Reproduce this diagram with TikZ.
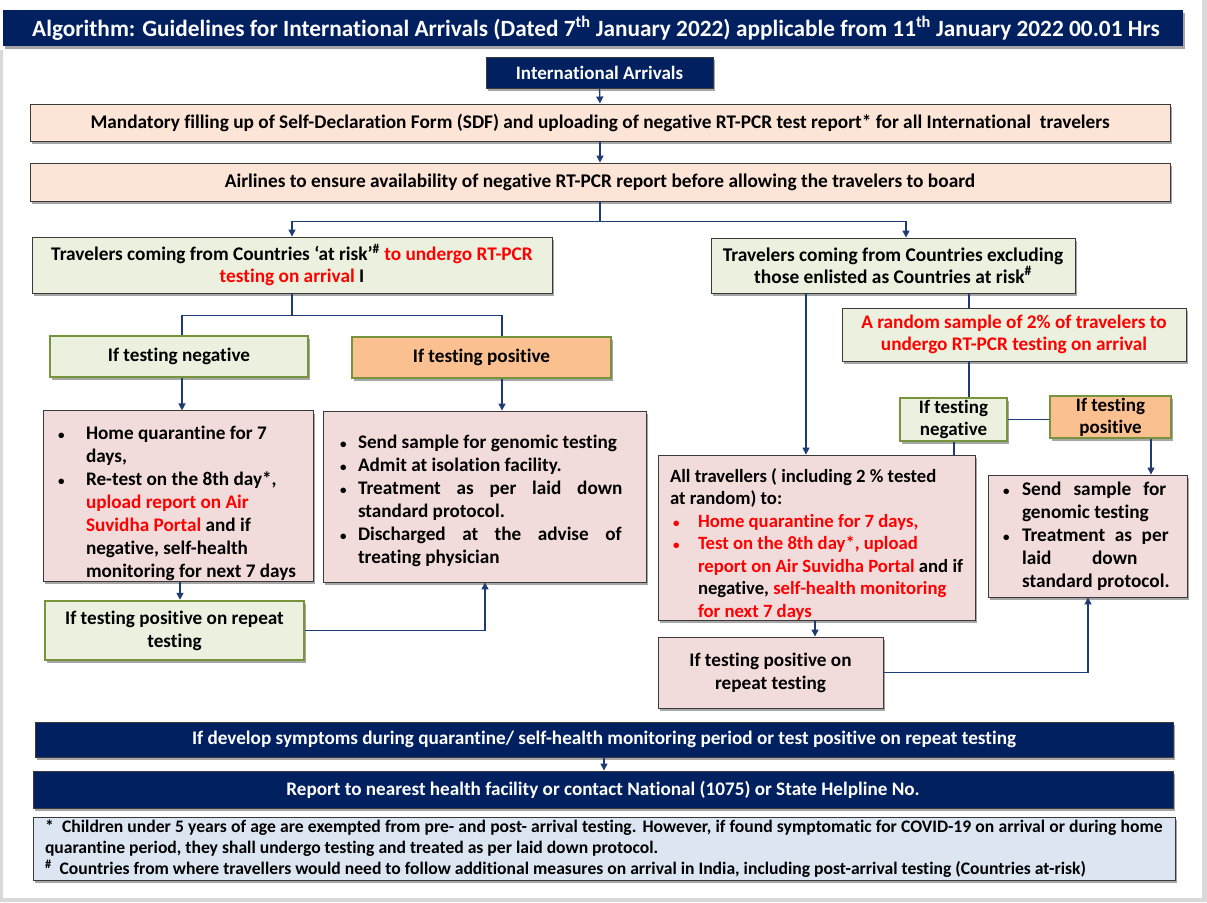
\documentclass[tikz,border=0pt]{standalone}
\usepackage{fontspec}
\setmainfont{Carlito}[Ligatures=NoCommon]
\usetikzlibrary{arrows.meta,shadows}
\definecolor{navy}{HTML}{002060}
\definecolor{linec}{HTML}{1F3B73}
\definecolor{peachc}{HTML}{FCE4D6}
\definecolor{greenf}{HTML}{EBF1DE}
\definecolor{greenb}{HTML}{77933C}
\definecolor{orangef}{HTML}{FAC090}
\definecolor{pinkf}{HTML}{F2DCDB}
\definecolor{bluef}{HTML}{DCE6F2}
\definecolor{borderg}{HTML}{3A3A3A}
\definecolor{frameg}{HTML}{D9D9D9}
\definecolor{redt}{HTML}{FF0000}
\newcommand{\rd}[1]{{\color{redt}#1}}
\newcommand{\dotb}{{\fontsize{13}{13}\selectfont •}}
\newcommand{\bu}{\makebox[28pt][l]{\dotb}}
\newcommand{\bs}{\makebox[18pt][l]{\dotb}}
\newcommand{\ind}[1]{\hspace*{#1}}
\newcommand{\just}[2]{\makebox[#1][l]{\spaceskip=0.22em plus 1fil\relax #2}}
\newcommand{\topstrut}[1]{\rule{0pt}{#1}}
\begin{document}
\begin{tikzpicture}[x=1pt,y=-1pt,
  shad/.style={drop shadow={shadow xshift=2pt,shadow yshift=-3pt,fill=black,opacity=0.35}},
  base/.style={draw=borderg,line width=0.9pt,inner sep=0pt,align=center,shad,
    font=\bfseries\fontsize{19.2}{23}\selectfont},
  peachbox/.style={base,fill=peachc},
  greenbox/.style={base,fill=greenf},
  gbox/.style={base,fill=greenf,draw=greenb,line width=2.5pt},
  obox/.style={base,fill=orangef,draw=greenb,line width=2.5pt},
  pinkbox/.style={base,fill=pinkf,align=flush left},
  navybox/.style={base,fill=navy,text=white},
  footbox/.style={base,fill=bluef,align=flush left,font=\bfseries\fontsize{17.6}{21}\selectfont},
  ln/.style={draw=linec,line width=1.3pt},
  arr/.style={ln,-{Triangle[width=7pt,length=7pt]}}
]
\useasboundingbox (0,0) rectangle (1207,902);
\fill[frameg] (0,0) rectangle (1207,902);
\fill[white] (3,0) rectangle (1202,898);
\fill[white] (0,0) rectangle (3,50);

% coordinates for connector x-positions
\coordinate (x182) at (182,0);
\coordinate (x502) at (502,0);
\coordinate (x806) at (806,0);
\coordinate (x906) at (906,0);
\coordinate (x969) at (969,0);
\coordinate (x954) at (954,0);
\coordinate (x1151) at (1151,0);
\coordinate (x815) at (815,0);
\coordinate (x1088) at (1088,0);
\coordinate (x180) at (180,0);
\coordinate (x485) at (485,0);
\coordinate (x604) at (604,0);

% title
\node[navybox,draw=none,minimum width=1180pt,minimum height=36pt,font=\bfseries\fontsize{23.3}{27}\selectfont] (title) at (593,28)
 {\hspace*{6pt}Algorithm: Guidelines for International Arrivals (Dated 7\textsuperscript{th} January 2022) applicable from 11\textsuperscript{th} January 2022 00.01 Hrs};

\node[navybox,minimum width=227pt,minimum height=31pt,font=\bfseries\fontsize{19}{22}\selectfont] (ia) at (599.5,72.5) {International Arrivals};

\node[peachbox,minimum width=1140pt,minimum height=37pt,font=\bfseries\fontsize{19.3}{23}\selectfont] (sdf) at (600,122.5)
 {Mandatory filling up of Self-Declaration Form (SDF) and uploading of negative RT-PCR test report* for all International\ \ travelers};
\node[peachbox,minimum width=1140pt,minimum height=38pt,font=\bfseries\fontsize{19.35}{23}\selectfont] (air) at (600,182)
 {Airlines to ensure availability of negative RT-PCR report before allowing the travelers to board};

\node[greenbox,minimum width=520pt,minimum height=56pt,font=\bfseries\fontsize{19.3}{22}\selectfont] (risk) at (292,265)
 {Travelers coming from Countries ‘at risk’\textsuperscript{\#} \rd{to undergo RT-PCR}\\\rd{testing on arrival} I};
\node[greenbox,minimum width=364pt,minimum height=55pt,font=\bfseries\fontsize{19.4}{22}\selectfont] (nonrisk) at (893,265.5)
 {Travelers coming from Countries excluding\\those enlisted as Countries at risk\textsuperscript{\#}};

\node[gbox,minimum width=258pt,minimum height=41pt] (neg1) at (179,356.5) {If testing negative};
\node[obox,minimum width=259pt,minimum height=41pt] (pos1) at (481.5,357.5) {If testing positive};

\node[pinkbox,minimum width=270pt,minimum height=170pt,text width=240pt,font=\bfseries\fontsize{19.2}{23}\selectfont] (hq1) at (178,496)
 {\topstrut{29pt}\bu Home quarantine for 7\\
  \ind{28pt}days,\\
  \bu Re-test on the 8th day*,\\
  \ind{28pt}\rd{upload report on Air}\\
  \ind{28pt}\rd{Suvidha Portal} and if\\
  \ind{28pt}negative, self-health\\
  \ind{28pt}\mbox{monitoring for next 7 days}};

\node[pinkbox,minimum width=323pt,minimum height=171pt,text width=289pt,font=\bfseries\fontsize{19.2}{23}\selectfont] (iso1) at (484.5,496.5)
 {\topstrut{22pt}\bs Send sample for genomic testing\\
  \bs Admit at isolation facility.\\
  \bs\just{276pt}{Treatment as per laid down}\\
  \ind{18pt}standard protocol.\\
  \bs\just{276pt}{Discharged at the advise of}\\
  \ind{18pt}treating physician};

\node[gbox,minimum width=259pt,minimum height=59pt] (rep1) at (174.5,630.5) {If testing positive on repeat\\testing};

\node[greenbox,minimum width=344pt,minimum height=53pt,font=\bfseries\fontsize{19.25}{22}\selectfont] (rand) at (1014,334.5)
 {\rd{A random sample of 2\% of travelers to}\\\rd{undergo RT-PCR testing on arrival}};

\node[gbox,minimum width=107pt,minimum height=43pt,font=\bfseries\fontsize{19}{22}\selectfont] (neg2) at (953.5,419.5) {If testing\\negative};
\node[obox,minimum width=121pt,minimum height=42pt,font=\bfseries\fontsize{19}{22}\selectfont] (pos2) at (1110.5,417) {If testing\\positive};

\node[pinkbox,minimum width=317pt,minimum height=163pt,text width=293pt,font=\bfseries\fontsize{18.7}{22.5}\selectfont] (all) at (816.5,537.5)
 {\topstrut{27pt}All travellers ( including 2 \% tested\\
  at random) to:\\
  \ind{3pt}\rd{\makebox[25pt][l]{\dotb}Home quarantine for 7 days,}\\
  \ind{3pt}\rd{\makebox[25pt][l]{\dotb}Test on the 8th day*, upload}\\
  \ind{28pt}\mbox{\rd{report on Air Suvidha Portal} and if}\\
  \ind{28pt}\mbox{negative, \rd{self-health monitoring}}\\
  \ind{28pt}\rd{for next 7 days}};

\node[pinkbox,minimum width=199pt,minimum height=122pt,text width=169pt,font=\bfseries\fontsize{19.3}{23}\selectfont] (iso2) at (1087.5,536)
 {\makebox[19pt][l]{\dotb}\just{152pt}{Send sample for}\\
  \ind{19pt}genomic testing\\
  \makebox[19pt][l]{\dotb}\just{152pt}{Treatment as per}\\
  \ind{19pt}\just{152pt}{laid down}\\
  \ind{19pt}\mbox{standard protocol.}};

\node[pinkbox,align=center,minimum width=225pt,minimum height=71pt] (rep2) at (770.5,672.5) {If testing positive on\\repeat testing};

\node[navybox,minimum width=1138pt,minimum height=35pt,font=\bfseries\fontsize{19.2}{22}\selectfont] (sym) at (604,739.5)
 {If develop symptoms during quarantine/ self-health monitoring period or test positive on repeat testing};
\node[navybox,minimum width=1140pt,minimum height=37pt,font=\bfseries\fontsize{19.15}{22}\selectfont] (rep) at (603,789.5)
 {Report to nearest health facility or contact National (1075) or State Helpline No.};

\node[footbox,minimum width=1142pt,minimum height=63pt,text width=1118pt] (foot) at (604,848.5)
 {\just{1118pt}{*\ \ Children under 5 years of age are exempted from pre- and post- arrival testing. However, if found symptomatic for COVID-19 on arrival or during home}\\
  quarantine period, they shall undergo testing and treated as per laid down protocol.\\
  \mbox{\textsuperscript{\#}\ \ Countries from where travellers would need to follow additional measures on arrival in India, including post-arrival testing (Countries at-risk)}};

% connectors
\draw[arr] (ia.south) -- (sdf.north);
\draw[arr] (sdf.south) -- (air.north);
\draw[arr] (air.south) -- ++(0,20) -| (risk.north);
\draw[arr] (air.south) -- ++(0,20) -| (nonrisk.north -| x906);
\draw[ln] (risk.south) -- ++(0,22) -| (neg1.north -| x182);
\draw[ln] (risk.south) -- ++(0,22) -| (pos1.north -| x502);
\draw[arr] (neg1.south -| x182) -- (hq1.north -| x182);
\draw[arr] (pos1.south -| x502) -- (iso1.north -| x502);
\draw[arr] (hq1.south -| x180) -- (rep1.north -| x180);
\draw[arr] (rep1.east) -| (iso1.south -| x485);
\draw[arr] (nonrisk.south -| x806) -- (all.north -| x806);
\draw[ln] (nonrisk.south -| x969) -- (rand.north -| x969);
\draw[ln] (rand.south -| x969) -- (neg2.north -| x969);
\draw[ln] (neg2.east) -- (neg2.east -| pos2.west);
\draw[ln] (neg2.south -| x954) -- (all.north -| x954);
\draw[arr] (pos2.south -| x1151) -- (iso2.north -| x1151);
\draw[arr] (all.south -| x815) -- (rep2.north -| x815);
\draw[arr] (rep2.east) -| (iso2.south -| x1088);
\draw[arr] (sym.south -| x604) -- (rep.north -| x604);
\end{tikzpicture}
\end{document}
